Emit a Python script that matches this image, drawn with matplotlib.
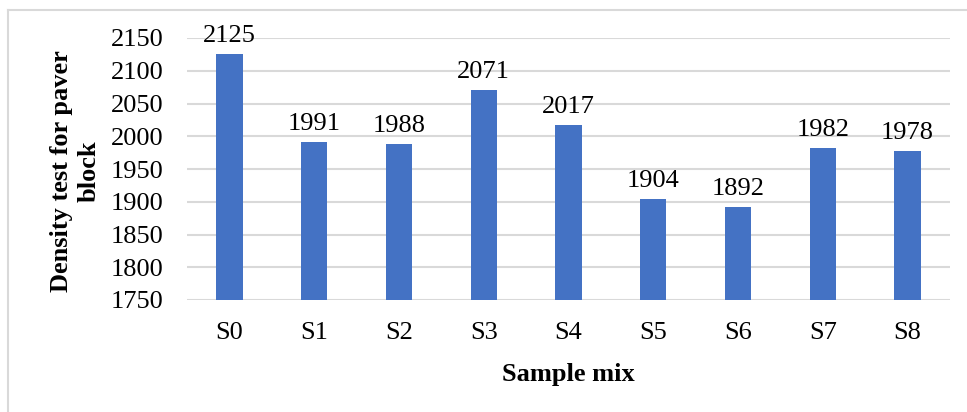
import matplotlib.pyplot as plt
from matplotlib.lines import Line2D

# density of each paver block mix
samples = ["S0", "S1", "S2", "S3", "S4", "S5", "S6", "S7", "S8"]
density = [2125, 1991, 1988, 2071, 2017, 1904, 1892, 1982, 1978]
y_ticks = [1750, 1800, 1850, 1900, 1950, 2000, 2050, 2100, 2150]

plt.rcParams["font.family"] = ["Liberation Serif", "DejaVu Serif"]

fig = plt.figure(figsize=(9.67, 4.12), dpi=100)
W, H = 967, 412
ax = fig.add_axes([187 / W, 1 - 300 / H, (950 - 187) / W, (300 - 38) / H])

# bars in the office blue
x = range(len(samples))
bars = ax.bar(x, density, width=0.31, color="#4472C4", zorder=3)

# value on top of each bar
for xi, v in zip(x, density):
    ax.annotate(str(v), (xi, v), xytext=(0, 5), textcoords="offset points",
                ha="center", va="bottom", fontsize=19)

ax.set_ylim(1750, 2150)
ax.set_xlim(-0.5, len(samples) - 0.5)
ax.set_yticks(y_ticks)
ax.set_xticks(list(x))
ax.set_xticklabels(samples)

# light horizontal grid, no spines
ax.grid(axis="y", color="#D9D9D9", linewidth=1.5, zorder=0)
for s in ax.spines.values():
    s.set_visible(False)
ax.tick_params(axis="both", length=0, labelsize=19)
ax.tick_params(axis="y", pad=17)
ax.tick_params(axis="x", pad=16)

# axis titles
fig.text(568 / W, 1 - 375 / H, "Sample mix", ha="center", va="center",
         fontsize=19, fontweight="bold")
fig.text(75 / W, 1 - 171 / H, "Density test for paver\nblock", ha="center",
         va="center", rotation=90, fontsize=19, fontweight="bold",
         multialignment="center", linespacing=1.25)

# chart area border
fig.add_artist(Line2D([8 / W, 8 / W], [0, 1 - 10 / H], color="#D9D9D9",
                      linewidth=1.5, transform=fig.transFigure))
fig.add_artist(Line2D([8 / W, 1], [1 - 10 / H, 1 - 10 / H], color="#D9D9D9",
                      linewidth=1.5, transform=fig.transFigure))

fig.savefig("out.png", dpi=100)
